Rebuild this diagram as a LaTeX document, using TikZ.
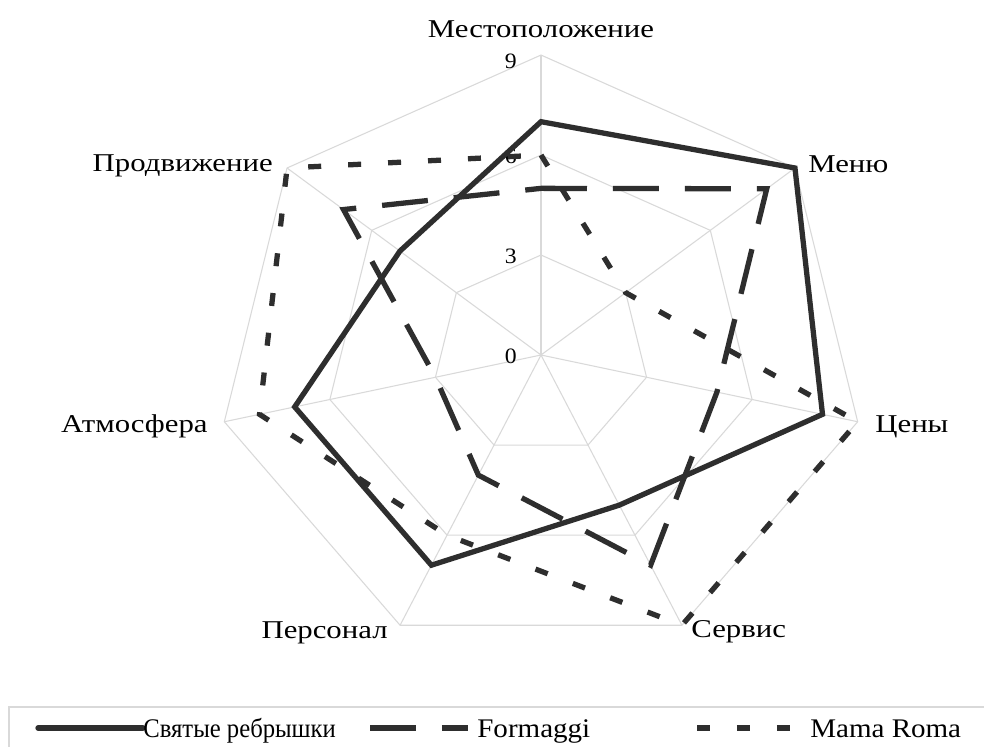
\documentclass[tikz,border=0pt]{standalone}
\usepackage{fontspec}
\setmainfont{Liberation Serif}[FakeStretch=1.08]
\newfontfamily\axfont{Liberation Serif}[FakeStretch=1.2]
\begin{document}
\begin{tikzpicture}[x=0.02cm,y=-0.02cm,
  grid/.style={draw=black!15,line width=0.6pt},
  ser/.style={draw=black!82,line width=3pt,line join=miter},
  longdash/.style={ser,dash pattern=on 0.92cm off 0.52cm},
  shortdash/.style={ser,dash pattern=on 0.26cm off 0.54cm},
  axlab/.style={font=\axfont\fontsize{14.6}{17}\selectfont,inner sep=0pt},
  numlab/.style={font=\fontsize{12.5}{15}\selectfont,inner sep=0pt,anchor=base east},
  leglab/.style={font=\fontsize{15.3}{18}\selectfont,inner sep=0pt,anchor=base west}]
\useasboundingbox (0,0) rectangle (984,747);
\fill[white] (0,0) rectangle (984,747);
\coordinate (ctr) at (541,355);

\begin{scope}[shift={(ctr)},x=0.722cm,y=0.6667cm]
\foreach \r in {3,6,9}
  \draw[grid] (90:\r) \foreach \k in {1,...,6} {-- ({90-\k*360/7}:\r)} -- cycle;
\foreach \k in {0,...,6}
  \draw[grid] (0,0) -- ({90-\k*360/7}:9);
\end{scope}

\node[numlab] (n0) at (517,363) {0};
\node[numlab] (n3) at (517,263) {3};
\node[numlab] (n6) at (517,163) {6};
\node[numlab] (n9) at (517,68) {9};

\begin{scope}[shift={(ctr)},x=0.722cm,y=0.6667cm]
\draw[shortdash] (90:6) -- (38.571:3) -- (-12.857:9) -- (-64.286:9) -- (-115.714:6) -- (-167.143:8) -- (141.429:9) -- cycle;
\draw[longdash] (90:5) -- (38.571:8) -- (-12.857:5) -- (-64.286:7) -- (-115.714:4) -- (-167.143:3) -- (141.429:7) -- cycle;
\draw[ser] (90:7) -- (38.571:9) -- (-12.857:8) -- (-64.286:5) -- (-115.714:7) -- (-167.143:7) -- (141.429:5) -- cycle;
\end{scope}

\node[axlab,anchor=base] (mesto) at (541,37) {Местоположение};
\node[axlab,anchor=base west] (menu) at (808,172) {Меню};
\node[axlab,anchor=base west] (ceny) at (875,432) {Цены};
\node[axlab,anchor=base west] (servis) at (691,637) {Сервис};
\node[axlab,anchor=base east] (personal) at (388,638) {Персонал};
\node[axlab,anchor=base east] (atmo) at (208,432) {Атмосфера};
\node[axlab,anchor=base east] (prodv) at (273,171) {Продвижение};

\draw[draw=black!15,line width=0.8pt] (984,707) -- (9,707) -- (9,750);
\draw[ser,line cap=round] (38,728) -- (143,728);
\node[leglab] (leg1) at (143,737) {\scalebox{0.85}[1]{Святые ребрышки}};
\draw[longdash] (370,728) -- (468,728);
\node[leglab] (leg2) at (477,737) {Formaggi};
\draw[shortdash] (697,728) -- (790,728);
\node[leglab] (leg3) at (810,737) {Mama Roma};
\end{tikzpicture}
\end{document}
